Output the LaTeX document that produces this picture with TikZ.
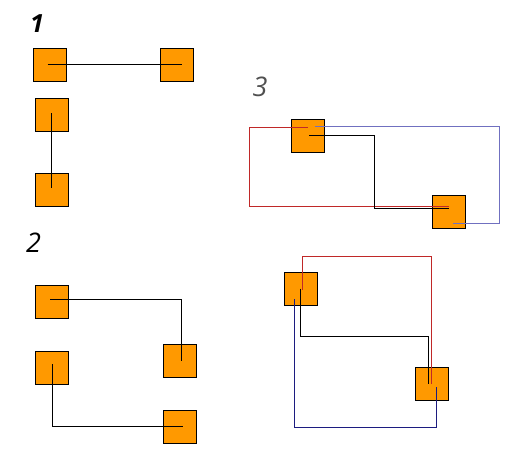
\documentclass[tikz,border=0pt]{standalone}
\usepackage{fontspec}
\setsansfont{Open Sans}
\usetikzlibrary{positioning,calc}
\definecolor{boxorange}{HTML}{FF9900}
\definecolor{wirered}{HTML}{C02828}
\definecolor{wireblue}{HTML}{7070C0}
\definecolor{wirenavy}{HTML}{1C1C80}
\definecolor{taggray}{HTML}{505050}
\begin{document}
\begin{tikzpicture}[x=1pt,y=-1pt,cell/.style={draw=black,fill=boxorange,minimum size=33pt,inner sep=0pt,line width=0.8pt},wire/.style={line width=0.9pt},tag/.style={inner sep=0pt,font=\sffamily\itshape\fontsize{27}{27}\selectfont}]
\useasboundingbox (0,0) rectangle (518,464);
% labels
\node[tag,font=\sffamily\itshape\bfseries\fontsize{25}{25}\selectfont] (t1) at (37,23.5) {1};
\node[tag] (t2) at (33.5,243) {2};
\node[tag,text=taggray] (t3) at (260,86.5) {3};
% panel 1
\node[cell] (a) at (49.5,64.5) {};
\node[cell] (b) at (176.5,64.5) {};
\node[cell] (c) at (51.5,114.5) {};
\node[cell] (d) at (51.5,189.5) {};
\draw[line width=1.8pt] ([xshift=-2pt]a.center)--([xshift=5pt]b.center);
\draw[wire] ([yshift=1.5pt]c.center)--([yshift=1.5pt]d.center);
% panel 2
\node[cell] (g) at (52,302) {};
\node[cell] (h) at (179.5,360.5) {};
\node[cell] (i) at (52,367.5) {};
\node[cell] (j) at (179.5,426.5) {};
\draw[wire] ([xshift=-2pt,yshift=3pt]g.center)-|([xshift=1.5pt]h.center);
\draw[wire] ([yshift=3.5pt]i.center)|-([xshift=3.5pt]j.center);
% panel 3
\node[cell] (e) at (307.5,135.5) {};
\node[cell] (f) at (449,211.5) {};
\draw[wire,wirered] ([yshift=8.5pt]e.center)--++(-58,0)|-([yshift=5.5pt]f.center);
\draw[wire,wireblue] ([xshift=7.5pt,yshift=9.5pt]e.center)--++(184,0)|-([xshift=4pt,yshift=-11.5pt]f.center);
\draw[wire] ([xshift=1.5pt]e.center)--++(65,0)|-([yshift=3.5pt]f.center);
% panel 4
\node[cell] (k) at (300.5,288.5) {};
\node[cell] (l) at (431.5,383.5) {};
\draw[wire,wirered] ([xshift=1.5pt,yshift=-1.5pt]k.center)--++(0,-34)-|(l.center);
\draw[wire] (k.center)--++(0,47.5)-|([xshift=-3.5pt]l.center);
\draw[wire,wirenavy] ([xshift=-6.5pt,yshift=-10.5pt]k.center)--++(0,128)-|([xshift=4.5pt,yshift=-3.5pt]l.center);
\end{tikzpicture}
\end{document}
